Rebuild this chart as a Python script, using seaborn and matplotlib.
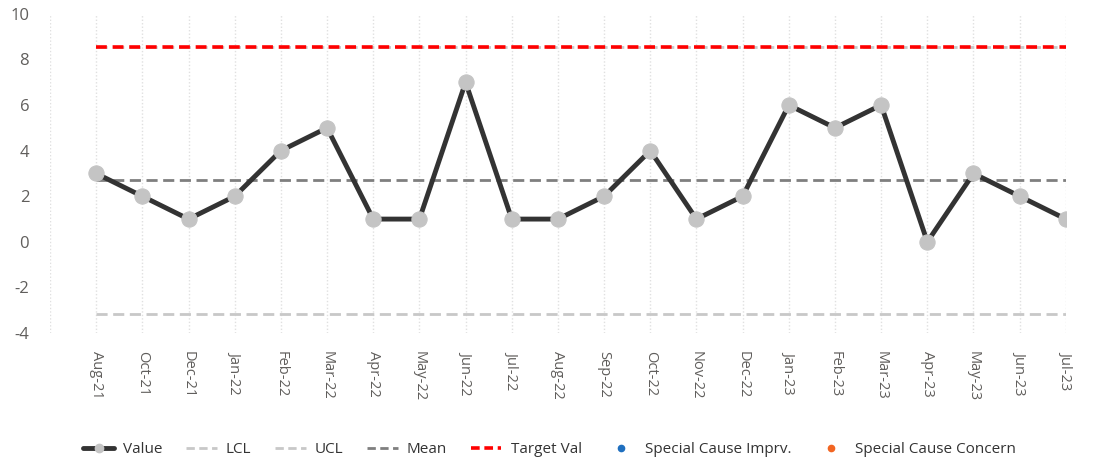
import matplotlib
matplotlib.use("Agg")
import matplotlib.pyplot as plt
from matplotlib.lines import Line2D
import numpy as np
import pandas as pd
import seaborn as sns

months = ["Aug-21", "Oct-21", "Dec-21", "Jan-22", "Feb-22", "Mar-22", "Apr-22",
          "May-22", "Jun-22", "Jul-22", "Aug-22", "Sep-22", "Oct-22", "Nov-22",
          "Dec-22", "Jan-23", "Feb-23", "Mar-23", "Apr-23", "May-23", "Jun-23",
          "Jul-23"]
values = [3, 2, 1, 2, 4, 5, 1, 1, 7, 1, 1, 2, 4, 1, 2, 6, 5, 6, 0, 3, 2, 1]
mean_val = [2.73] * len(months)
lcl = [-3.15] * len(months)
ucl = [8.55] * len(months)
target = [8.55] * len(months)
y_ticks = [-4, -2, 0, 2, 4, 6, 8, 10]

sns.set_style("white")
plt.rcParams["font.family"] = ["Open Sans", "DejaVu Sans"]
plt.rcParams["axes.unicode_minus"] = False

df = pd.DataFrame({"pos": np.arange(len(months)), "month": months,
                   "Value": values, "Mean": mean_val, "LCL": lcl,
                   "UCL": ucl, "Target": target})

fig = plt.figure(figsize=(10.97, 4.62), dpi=100)
ax = fig.add_axes([0.0456, 0.279, 0.926, 0.691])

# control limits, centre line and target
sns.lineplot(data=df, x="pos", y="LCL", ax=ax, color="#c8c8c8", lw=2, zorder=2)
ax.lines[-1].set_dashes([4, 2])
sns.lineplot(data=df, x="pos", y="UCL", ax=ax, color="#c8c8c8", lw=2, zorder=2)
ax.lines[-1].set_dashes([4, 2])
sns.lineplot(data=df, x="pos", y="Mean", ax=ax, color="#7f7f7f", lw=2, zorder=3)
ax.lines[-1].set_dashes([4, 2])
sns.lineplot(data=df, x="pos", y="Target", ax=ax, color="#ff0000", lw=2.6, zorder=4)
ax.lines[-1].set_dashes([3, 1.6])

# measured values
sns.lineplot(data=df, x="pos", y="Value", ax=ax, color="#333333", lw=3.5,
             marker="o", markersize=11, markerfacecolor="#c4c4c4",
             markeredgecolor="#c4c4c4", zorder=5)

ax.set_xlim(-1, len(months) - 1)
ax.set_ylim(-4, 10)
ax.set_yticks(y_ticks)
ax.set_xticks(df["pos"])
ax.set_xticklabels(months, rotation=270, fontsize=10.5, color="#605e5c")
ax.tick_params(axis="y", labelsize=12, colors="#605e5c", length=0, pad=15)
ax.tick_params(axis="x", length=0, pad=13)
ax.set_xlabel("")
ax.set_ylabel("")
for s in ax.spines.values():
    s.set_visible(False)
for xv in range(-1, len(months)):
    ax.axvline(xv, color="#e0e0e0", lw=1, ls=(0, (1, 1.5)), zorder=1)

handles = [
    Line2D([], [], color="#333333", lw=3.5, marker="o", markersize=6,
           markerfacecolor="#c4c4c4", markeredgecolor="#c4c4c4"),
    Line2D([], [], color="#c8c8c8", lw=2, dashes=[3, 1.6]),
    Line2D([], [], color="#c8c8c8", lw=2, dashes=[3, 1.6]),
    Line2D([], [], color="#7f7f7f", lw=2, dashes=[3, 1.6]),
    Line2D([], [], color="#ff0000", lw=2.6, dashes=[2.4, 1.3]),
    Line2D([], [], color="none", marker="o", markersize=4.5,
           markerfacecolor="#1f6fbf", markeredgecolor="#1f6fbf"),
    Line2D([], [], color="none", marker="o", markersize=4.5,
           markerfacecolor="#f26522", markeredgecolor="#f26522"),
]
labels = ["Value", "LCL", "UCL", "Mean", "Target Val",
          "Special Cause Imprv.", "Special Cause Concern"]
fig.legend(handles, labels, loc="lower center", bbox_to_anchor=(0.501, -0.02),
           ncol=7, frameon=False, fontsize=11, handlelength=2.0,
           columnspacing=1.55, handletextpad=0.6, labelcolor="#333333")

fig.savefig("out.png", dpi=100)
